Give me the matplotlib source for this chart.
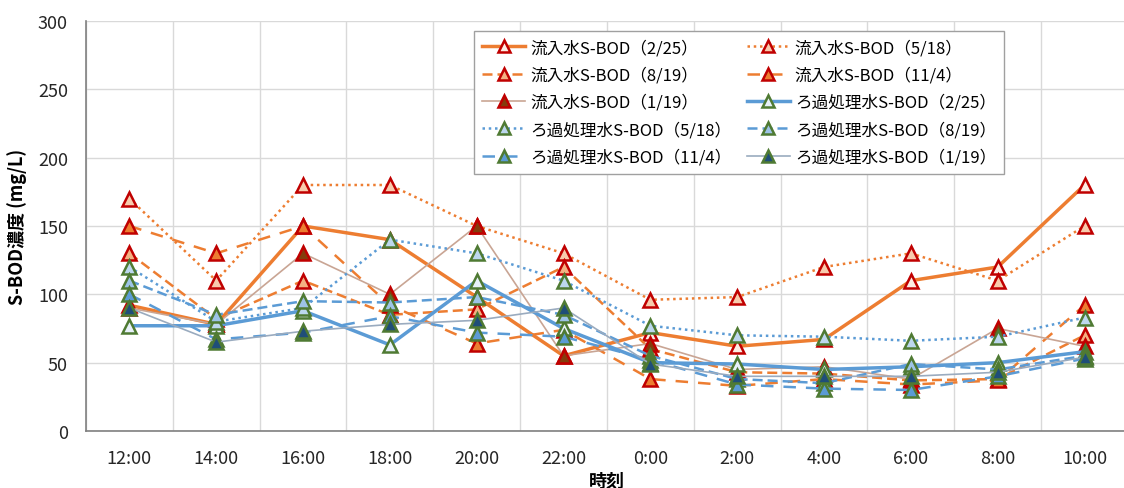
import numpy as np
import matplotlib.pyplot as plt

plt.rcParams['font.family'] = ['Noto Sans CJK JP', 'DejaVu Sans']

hours = ['12:00', '14:00', '16:00', '18:00', '20:00', '22:00',
         '0:00', '2:00', '4:00', '6:00', '8:00', '10:00']

# 流入水 S-BOD (mg/L)
inf_0225 = [92, 78, 150, 140, 98, 55, 72, 62, 67, 110, 120, 180]
inf_0518 = [170, 110, 180, 180, 150, 130, 96, 98, 120, 130, 110, 150]
inf_0819 = [130, 82, 110, 85, 89, 120, 60, 43, 42, 37, 38, 70]
inf_1104 = [150, 130, 150, 92, 64, 74, 38, 33, 38, 34, 37, 92]
inf_0119 = [90, 78, 130, 100, 150, 55, 64, 45, 47, 38, 75, 62]

# ろ過処理水 S-BOD (mg/L)
flt_0225 = [77, 77, 88, 63, 110, 75, 50, 49, 45, 47, 50, 58]
flt_0518 = [120, 80, 90, 140, 130, 110, 77, 70, 69, 66, 69, 83]
flt_0819 = [110, 85, 95, 94, 98, 85, 55, 38, 35, 49, 45, 55]
flt_1104 = [100, 67, 72, 84, 72, 69, 52, 34, 31, 30, 40, 53]
flt_0119 = [90, 65, 73, 78, 81, 90, 49, 40, 40, 40, 43, 54]

orange = '#ED7D31'
blue = '#5B9BD5'
red_edge = '#C00000'
green_edge = '#4F7A33'

series = [
    ('流入水S-BOD（2/25）', inf_0225, orange, '-', 2.5, '#FDEDE4', red_edge),
    ('流入水S-BOD（5/18）', inf_0518, orange, (0, (1, 1.5)), 1.8, '#F8CBAD', red_edge),
    ('流入水S-BOD（8/19）', inf_0819, orange, (0, (4, 2)), 1.8, '#F4B183', red_edge),
    ('流入水S-BOD（11/4）', inf_1104, orange, (0, (5, 4)), 1.8, '#ED7D31', red_edge),
    ('流入水S-BOD（1/19）', inf_0119, '#C9A594', '-', 1.2, '#843C0C', red_edge),
    ('ろ過処理水S-BOD（2/25）', flt_0225, blue, '-', 2.5, '#E8F1FA', green_edge),
    ('ろ過処理水S-BOD（5/18）', flt_0518, blue, (0, (1, 1.5)), 1.8, '#BDD7EE', green_edge),
    ('ろ過処理水S-BOD（8/19）', flt_0819, blue, (0, (4, 2)), 1.8, '#9DC3E6', green_edge),
    ('ろ過処理水S-BOD（11/4）', flt_1104, blue, (0, (5, 4)), 1.8, '#5B9BD5', green_edge),
    ('ろ過処理水S-BOD（1/19）', flt_0119, '#9AABBF', '-', 1.2, '#1F4E79', green_edge),
]

fig = plt.figure(figsize=(11.24, 4.89), dpi=100)
ax = fig.add_axes([0.0765, 0.1166, 0.927, 0.8384])

x = np.arange(len(hours))
lines = []
for label, vals, col, ls, lw, mfc, mec in series:
    ln, = ax.plot(x, vals, color=col, linestyle=ls, linewidth=lw, marker='^',
                  markersize=10, markerfacecolor=mfc, markeredgecolor=mec,
                  markeredgewidth=1.8, label=label)
    lines.append(ln)

ax.set_xlim(-0.5, 11.5)
ax.set_ylim(0, 300)
ax.set_yticks(range(0, 301, 50))
ax.set_xticks(x)
ax.set_xticklabels(hours)
ax.set_xticks(np.arange(-0.5, 11.6, 1), minor=True)
ax.tick_params(axis='both', which='both', length=0, labelsize=13, colors='#262626')
ax.tick_params(axis='x', pad=13)
ax.tick_params(axis='y', pad=13)
ax.grid(True, which='minor', axis='x', color='#D9D9D9', linewidth=1)
ax.grid(True, which='major', axis='y', color='#D9D9D9', linewidth=1)
ax.set_axisbelow(True)
for side in ['top', 'right']:
    ax.spines[side].set_visible(False)
for side in ['left', 'bottom']:
    ax.spines[side].set_color('#808080')
    ax.spines[side].set_linewidth(1.2)

ax.set_xlabel('時刻', fontsize=13, fontweight='bold', labelpad=3)
ax.set_ylabel('S-BOD濃度 (mg/L)', fontsize=13, fontweight='bold', labelpad=8)

# legend filled row by row: two entries per row
order = [0, 2, 4, 6, 8, 1, 3, 5, 7, 9]
leg = ax.legend([lines[i] for i in order], [series[i][0] for i in order],
                ncol=2, loc='upper left', bbox_to_anchor=(0.372, 0.976),
                borderaxespad=0, fontsize=12, handlelength=2.6,
                handletextpad=0.3, columnspacing=0.9, labelspacing=0.62,
                borderpad=0.5, markerscale=0.8, fancybox=False,
                framealpha=1, edgecolor='#A0A0A0')
leg.get_frame().set_linewidth(1.0)

fig.savefig('out.png', dpi=100)
